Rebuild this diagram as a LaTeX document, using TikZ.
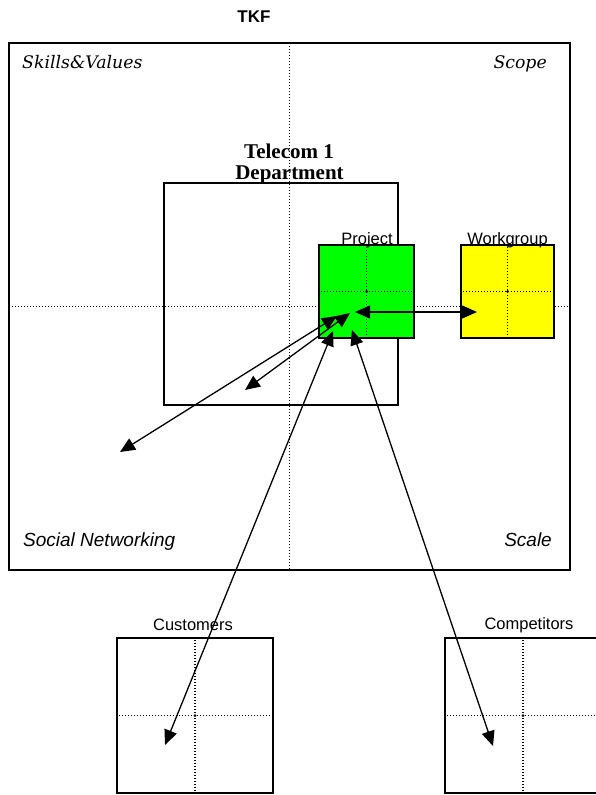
\documentclass[tikz,border=0pt]{standalone}
\usepackage{fontspec}
\setmainfont{Liberation Serif}
\setsansfont{Liberation Sans}
\newfontfamily\quadserif{DejaVu Serif}
\usetikzlibrary{arrows.meta}

\begin{document}
\begin{tikzpicture}[x=1pt,y=-1pt,
  frame/.style={draw=black, line width=1.5pt, inner sep=0pt, outer sep=0pt},
  grid/.style={line width=1.4pt, dash pattern=on 1.4pt off 1.6pt, black},
  hub/.style={fill=black, circle, inner sep=0pt, minimum size=3pt},
  link/.style={line width=1.3pt, {Triangle[length=15pt,width=13pt]}-{Triangle[length=15pt,width=13pt]}},
  quad/.style={font=\quadserif\itshape\fontsize{17.3}{20}\selectfont, inner sep=0pt},
  quadsans/.style={font=\sffamily\itshape\fontsize{19}{22}\selectfont, inner sep=0pt},
  tag/.style={font=\sffamily\fontsize{16.5}{19}\selectfont, inner sep=0pt}]

\useasboundingbox (0,0) rectangle (595,795);

% outer TKF frame with its dotted axes
\node[frame, minimum width=561pt, minimum height=527pt, anchor=north west] (tkf) at (9,43) {};
\draw[grid] (tkf.north) -- (tkf.south);
\draw[grid] (tkf.west) -- (tkf.east);

% department frame
\node[frame, minimum width=234pt, minimum height=222pt, anchor=north west] (dept) at (164,183) {};

% project and workgroup squares
\node[frame, fill={rgb,255:red,0;green,255;blue,0}, minimum width=95pt, minimum height=93pt, anchor=north west] (proj) at (319,245) {};
\node[frame, fill={rgb,255:red,255;green,255;blue,0}, minimum width=93pt, minimum height=93pt, anchor=north west] (wg) at (461,245) {};

% customers and competitors squares
\node[frame, minimum width=156pt, minimum height=155pt, anchor=north west] (cust) at (117,638) {};
\node[frame, minimum width=156pt, minimum height=155pt, anchor=north west] (comp) at (445,638) {};

% dotted axes inside the small squares
\foreach \b in {proj, wg, cust, comp} {
  \draw[grid, shorten <=2pt, shorten >=2pt] (\b.north) -- (\b.south);
  \draw[grid, shorten <=2pt, shorten >=2pt] (\b.west) -- (\b.east);
  \node[hub] at (\b.center) {};
}

% arrow end points
\coordinate (pL) at (355,312);
\coordinate (wR) at (477,312);
\coordinate (pA) at (337,316);
\coordinate (sw) at (120,452);
\coordinate (pB) at (350,313);
\coordinate (dI) at (245,390);
\coordinate (pC) at (333,331);
\coordinate (cI) at (165,745);
\coordinate (pD) at (352,330);
\coordinate (kI) at (493,746);

% connectors
\draw[link] (pL) -- (wR);
\draw[link] (pA) -- (sw);
\draw[link] (pB) -- (dI);
\draw[link] (pC) -- (cI);
\draw[link] (pD) -- (kI);

% labels
\node[font=\sffamily\bfseries\fontsize{17}{20}\selectfont, inner sep=0pt, anchor=base] (title) at (254,22) {TKF};
\node[quad, anchor=base west] (sv) at (22,68) {Skills\&Values};
\node[quad, anchor=base east] (sc) at (547,68) {Scope};
\node[quadsans, anchor=base west] (sn) at (23,546) {Social Networking};
\node[quadsans, anchor=base east] (sl) at (552,546) {Scale};
\node[font=\bfseries\fontsize{21}{21}\selectfont, inner sep=0pt, anchor=base] (dl1) at (289,158) {Telecom 1};
\node[font=\bfseries\fontsize{21}{21}\selectfont, inner sep=0pt, anchor=base] (dl2) at (289.5,179) {Department};
\node[tag, anchor=base] (pl) at (367,244) {Project};
\node[tag, anchor=base] (wl) at (507.5,244) {Workgroup};
\node[tag, anchor=base] (cl) at (193,630) {Customers};
\node[tag, anchor=base] (kl) at (529,629) {Competitors};
\end{tikzpicture}
\end{document}
